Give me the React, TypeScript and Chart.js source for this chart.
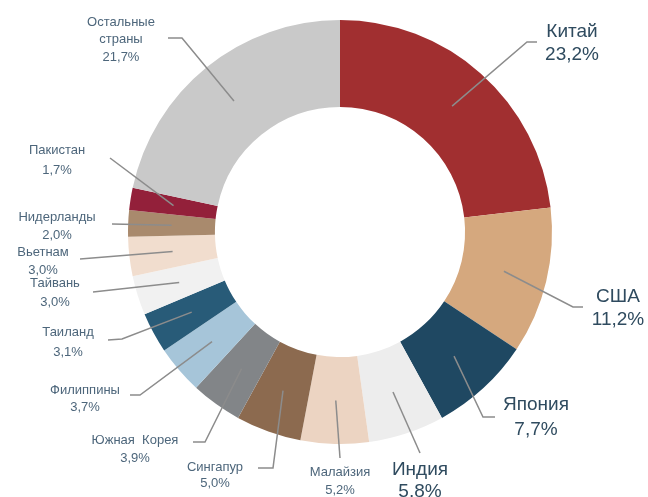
import React, { useEffect, useRef } from "react";
import { Chart, registerables } from "chart.js";

Chart.register(...registerables);

const categories = [
  "Китай",
  "США",
  "Япония",
  "Индия",
  "Малайзия",
  "Сингапур",
  "Южная Корея",
  "Филиппины",
  "Таиланд",
  "Тайвань",
  "Вьетнам",
  "Нидерланды",
  "Пакистан",
  "Остальные страны",
];

const shares = [23.2, 11.2, 7.7, 5.8, 5.2, 5.0, 3.9, 3.7, 3.1, 3.0, 3.0, 2.0, 1.7, 21.7];

const sliceColors = [
  "#A12F30",
  "#D5A87E",
  "#1F4862",
  "#EDEDED",
  "#ECD4C2",
  "#8C6A4F",
  "#828588",
  "#A6C5D9",
  "#285B78",
  "#F1F1F1",
  "#F1DDCE",
  "#A98A6D",
  "#93203A",
  "#C9C9C9",
];

// label name lines (split for display)
const nameLines = [
  ["Китай"],
  ["США"],
  ["Япония"],
  ["Индия"],
  ["Малайзия"],
  ["Сингапур"],
  ["Южная  Корея"],
  ["Филиппины"],
  ["Таиланд"],
  ["Тайвань"],
  ["Вьетнам"],
  ["Нидерланды"],
  ["Пакистан"],
  ["Остальные", "страны"],
];

// annotation layout: text centre (first line), line height, leader elbow & end, big font flag
const labelLayout = [
  { tx: 572, ty: 32, lh: 23, ex: 527, ey: 42, hx: 537, hy: 42, big: true },
  { tx: 618, ty: 297, lh: 23, ex: 573, ey: 307, hx: 583, hy: 307, big: true },
  { tx: 536, ty: 405, lh: 25, ex: 483, ey: 417, hx: 495, hy: 417, big: true },
  { tx: 420, ty: 470, lh: 22, ex: 420, ey: 453, hx: 420, hy: 453, big: true },
  { tx: 340, ty: 472, lh: 18, ex: 340, ey: 458, hx: 340, hy: 458, big: false },
  { tx: 215, ty: 467, lh: 16, ex: 273, ey: 468, hx: 258, hy: 468, big: false },
  { tx: 135, ty: 440, lh: 18, ex: 205, ey: 442, hx: 193, hy: 442, big: false },
  { tx: 85, ty: 390, lh: 17, ex: 140, ey: 395, hx: 130, hy: 395, big: false },
  { tx: 68, ty: 332, lh: 20, ex: 122, ey: 339, hx: 108, hy: 340, big: false },
  { tx: 55, ty: 283, lh: 19, ex: 93, ey: 292, hx: 93, hy: 292, big: false },
  { tx: 43, ty: 252, lh: 18, ex: 80, ey: 259, hx: 80, hy: 259, big: false },
  { tx: 57, ty: 217, lh: 18, ex: 112, ey: 224, hx: 112, hy: 224, big: false },
  { tx: 57, ty: 150, lh: 20, ex: 110, ey: 158, hx: 110, hy: 158, big: false },
  { tx: 121, ty: 22, lh: 17.5, ex: 182, ey: 38, hx: 168, hy: 38, big: false },
];

const fmt = (v: number) => v.toFixed(1).replace(".", ",") + "%";

const labelPlugin = {
  id: "leaderLabels",
  afterDraw(chart: any) {
    const ctx = chart.ctx;
    const meta = chart.getDatasetMeta(0);
    ctx.save();
    meta.data.forEach((arc: any, i: number) => {
      const p = arc.getProps(["x", "y", "startAngle", "endAngle", "innerRadius", "outerRadius"], true);
      const mid = (p.startAngle + p.endAngle) / 2;
      const r = (p.innerRadius + p.outerRadius) / 2;
      const sx = p.x + Math.cos(mid) * r;
      const sy = p.y + Math.sin(mid) * r;
      const L = labelLayout[i];
      ctx.strokeStyle = "#8C8C8C";
      ctx.lineWidth = 1.5;
      ctx.beginPath();
      ctx.moveTo(sx, sy);
      ctx.lineTo(L.ex, L.ey);
      ctx.lineTo(L.hx, L.hy);
      ctx.stroke();

      const lines = [...nameLines[i], fmt(shares[i])];
      ctx.fillStyle = L.big ? "#2F4B5F" : "#4D667B";
      ctx.font = L.big ? "19px 'Liberation Sans', Arial, sans-serif" : "13px 'Liberation Sans', Arial, sans-serif";
      ctx.textAlign = "center";
      ctx.textBaseline = "middle";
      lines.forEach((t, k) => {
        ctx.fillText(t, L.tx, L.ty + k * L.lh);
      });
    });
    ctx.restore();
  },
};

export default function App() {
  const ref = useRef<HTMLCanvasElement | null>(null);
  useEffect(() => {
    if (!ref.current) return;
    const chart = new Chart(ref.current, {
      type: "doughnut",
      data: {
        labels: categories,
        datasets: [
          {
            data: shares,
            backgroundColor: sliceColors,
            borderWidth: 0,
          },
        ],
      },
      options: {
        animation: false,
        responsive: true,
        maintainAspectRatio: false,
        cutout: "59%",
        layout: { padding: { left: 128, right: 96, top: 20, bottom: 53 } },
        plugins: {
          legend: { display: false },
          tooltip: { enabled: false },
        },
      },
      plugins: [labelPlugin],
    });
    return () => chart.destroy();
  }, []);
  return (
    <div style={{ position: "absolute", left: 0, top: 0, width: 648, height: 497, background: "#fff" }}>
      <canvas ref={ref} />
    </div>
  );
}
